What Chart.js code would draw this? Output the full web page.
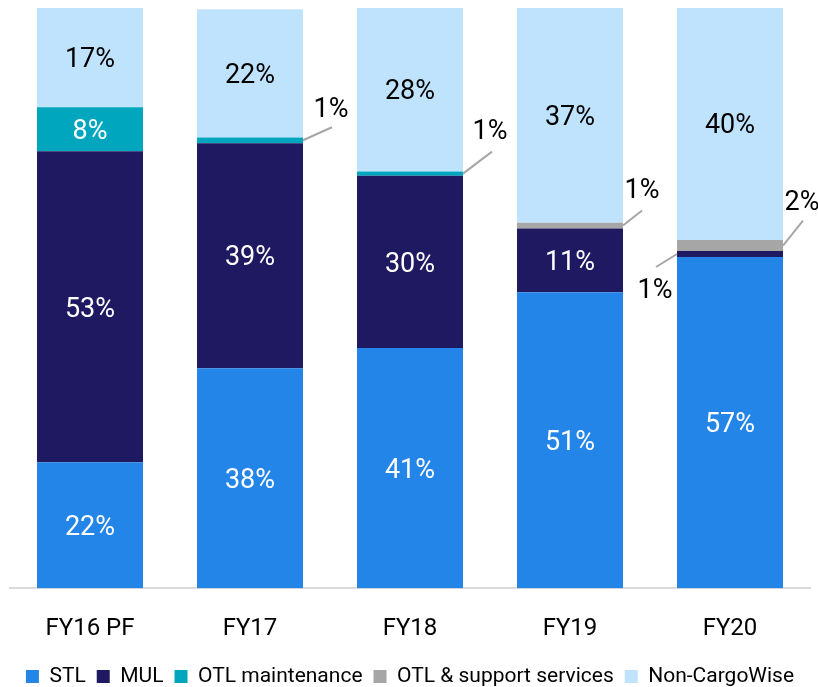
<!DOCTYPE html>
<html>
<head>
<meta charset="utf-8">
<script src="https://cdn.jsdelivr.net/npm/chart.js@4.4.1/dist/chart.umd.min.js"></script>
<style>
  html, body { margin: 0; padding: 0; background: #ffffff; }
  #wrap { width: 818px; height: 687px; position: relative; }
</style>
</head>
<body>
<div id="wrap"><canvas id="mixChart"></canvas></div>
<script>
const years = ['FY16 PF', 'FY17', 'FY18', 'FY19', 'FY20'];

// share of revenue, %
const stl = [21.7, 37.9, 41.4, 51.0, 57.1];
const mul = [53.6, 38.8, 29.7, 11.0, 1.0];
const otlMaint = [7.6, 1.0, 0.7, 0, 0];
const otlSupport = [0, 0, 0, 1.0, 1.9];
const nonCW = [17.1, 22.1, 28.3, 37.1, 40.3];

// labels as printed on the slide
const stlLbl = ['22%', '38%', '41%', '51%', '57%'];
const mulLbl = ['53%', '39%', '30%', '11%', '1%'];
const otlMaintLbl = ['8%', '1%', '1%', '', ''];
const otlSupportLbl = ['', '', '', '1%', '2%'];
const nonCWLbl = ['17%', '22%', '28%', '37%', '40%'];

const FONT = 'Roboto, "Noto Sans", sans-serif';

// which labels go outside with a leader line: [dataset, index, dx1, dy1, textDx, textDy, side]
const callouts = [
    [2, 1, 29, -13, 28, -30, 'right'],
    [2, 2, 29, -22, 27, -41, 'right'],
    [3, 3, 19, -15, 19, -34, 'right'],
    [3, 4, 20, -25, 19, -42, 'right'],
    [1, 4, -21, 13, -22, 37, 'left']
];

const segLabels = {
    id: 'segLabels',
    afterInit(chart) {
        // legend sits tighter to the bottom edge than chart.js default
        const leg = chart.legend;
        const fit = leg.fit;
        leg.fit = function () {
            fit.call(this);
            this.height = 32;
        };
    },
    afterDatasetsDraw(chart) {
        const ctx = chart.ctx;
        ctx.save();
        ctx.font = '27px ' + FONT;
        ctx.textAlign = 'center';
        ctx.textBaseline = 'middle';
        chart.data.datasets.forEach((ds, di) => {
            chart.getDatasetMeta(di).data.forEach((bar, i) => {
                const txt = ds.labels[i];
                if (!txt) return;
                const c = callouts.find(c => c[0] === di && c[1] === i);
                const midY = (bar.y + bar.base) / 2;
                if (c) {
                    const x0 = c[6] === 'right' ? bar.x + bar.width / 2 : bar.x - bar.width / 2;
                    ctx.strokeStyle = '#a6a6a6';
                    ctx.lineWidth = 2;
                    ctx.beginPath();
                    ctx.moveTo(x0, midY);
                    ctx.lineTo(x0 + c[2], midY + c[3]);
                    ctx.stroke();
                    ctx.fillStyle = '#000000';
                    ctx.fillText(txt, x0 + c[4], midY + c[5]);
                } else {
                    ctx.fillStyle = ds.textColor;
                    ctx.fillText(txt, bar.x, midY + 3);
                }
            });
        });
        ctx.restore();
    }
};

new Chart(document.getElementById('mixChart'), {
    type: 'bar',
    data: {
        labels: years,
        datasets: [
            { label: 'STL', data: stl, labels: stlLbl, backgroundColor: '#2485e8', textColor: '#ffffff' },
            { label: 'MUL', data: mul, labels: mulLbl, backgroundColor: '#1f1961', textColor: '#ffffff' },
            { label: 'OTL maintenance', data: otlMaint, labels: otlMaintLbl, backgroundColor: '#00a6bd', textColor: '#ffffff' },
            { label: 'OTL & support services', data: otlSupport, labels: otlSupportLbl, backgroundColor: '#a6a6a6', textColor: '#000000' },
            { label: 'Non-CargoWise', data: nonCW, labels: nonCWLbl, backgroundColor: '#bfe3fd', textColor: '#000000' }
        ]
    },
    options: {
        responsive: true,
        maintainAspectRatio: false,
        animation: false,
        datasets: {
            bar: { categoryPercentage: 1, barPercentage: 0.6625 }
        },
        layout: { padding: { left: 10, right: 8, top: 8, bottom: 0 } },
        plugins: {
            legend: {
                position: 'bottom',
                labels: {
                    color: '#000000',
                    font: { size: 21, family: FONT },
                    boxWidth: 13,
                    boxHeight: 13,
                    padding: 11
                }
            },
            tooltip: { enabled: false }
        },
        scales: {
            x: {
                stacked: true,
                grid: { display: false },
                border: { color: '#d9d9d9', width: 2 },
                ticks: {
                    color: '#000000',
                    font: { size: 24, family: FONT },
                    padding: 18
                },
                afterFit(scale) {
                    scale.height -= 6;
                }
            },
            y: {
                stacked: true,
                display: false,
                min: 0,
                max: 100
            }
        }
    },
    plugins: [segLabels]
});
</script>
</body>
</html>
